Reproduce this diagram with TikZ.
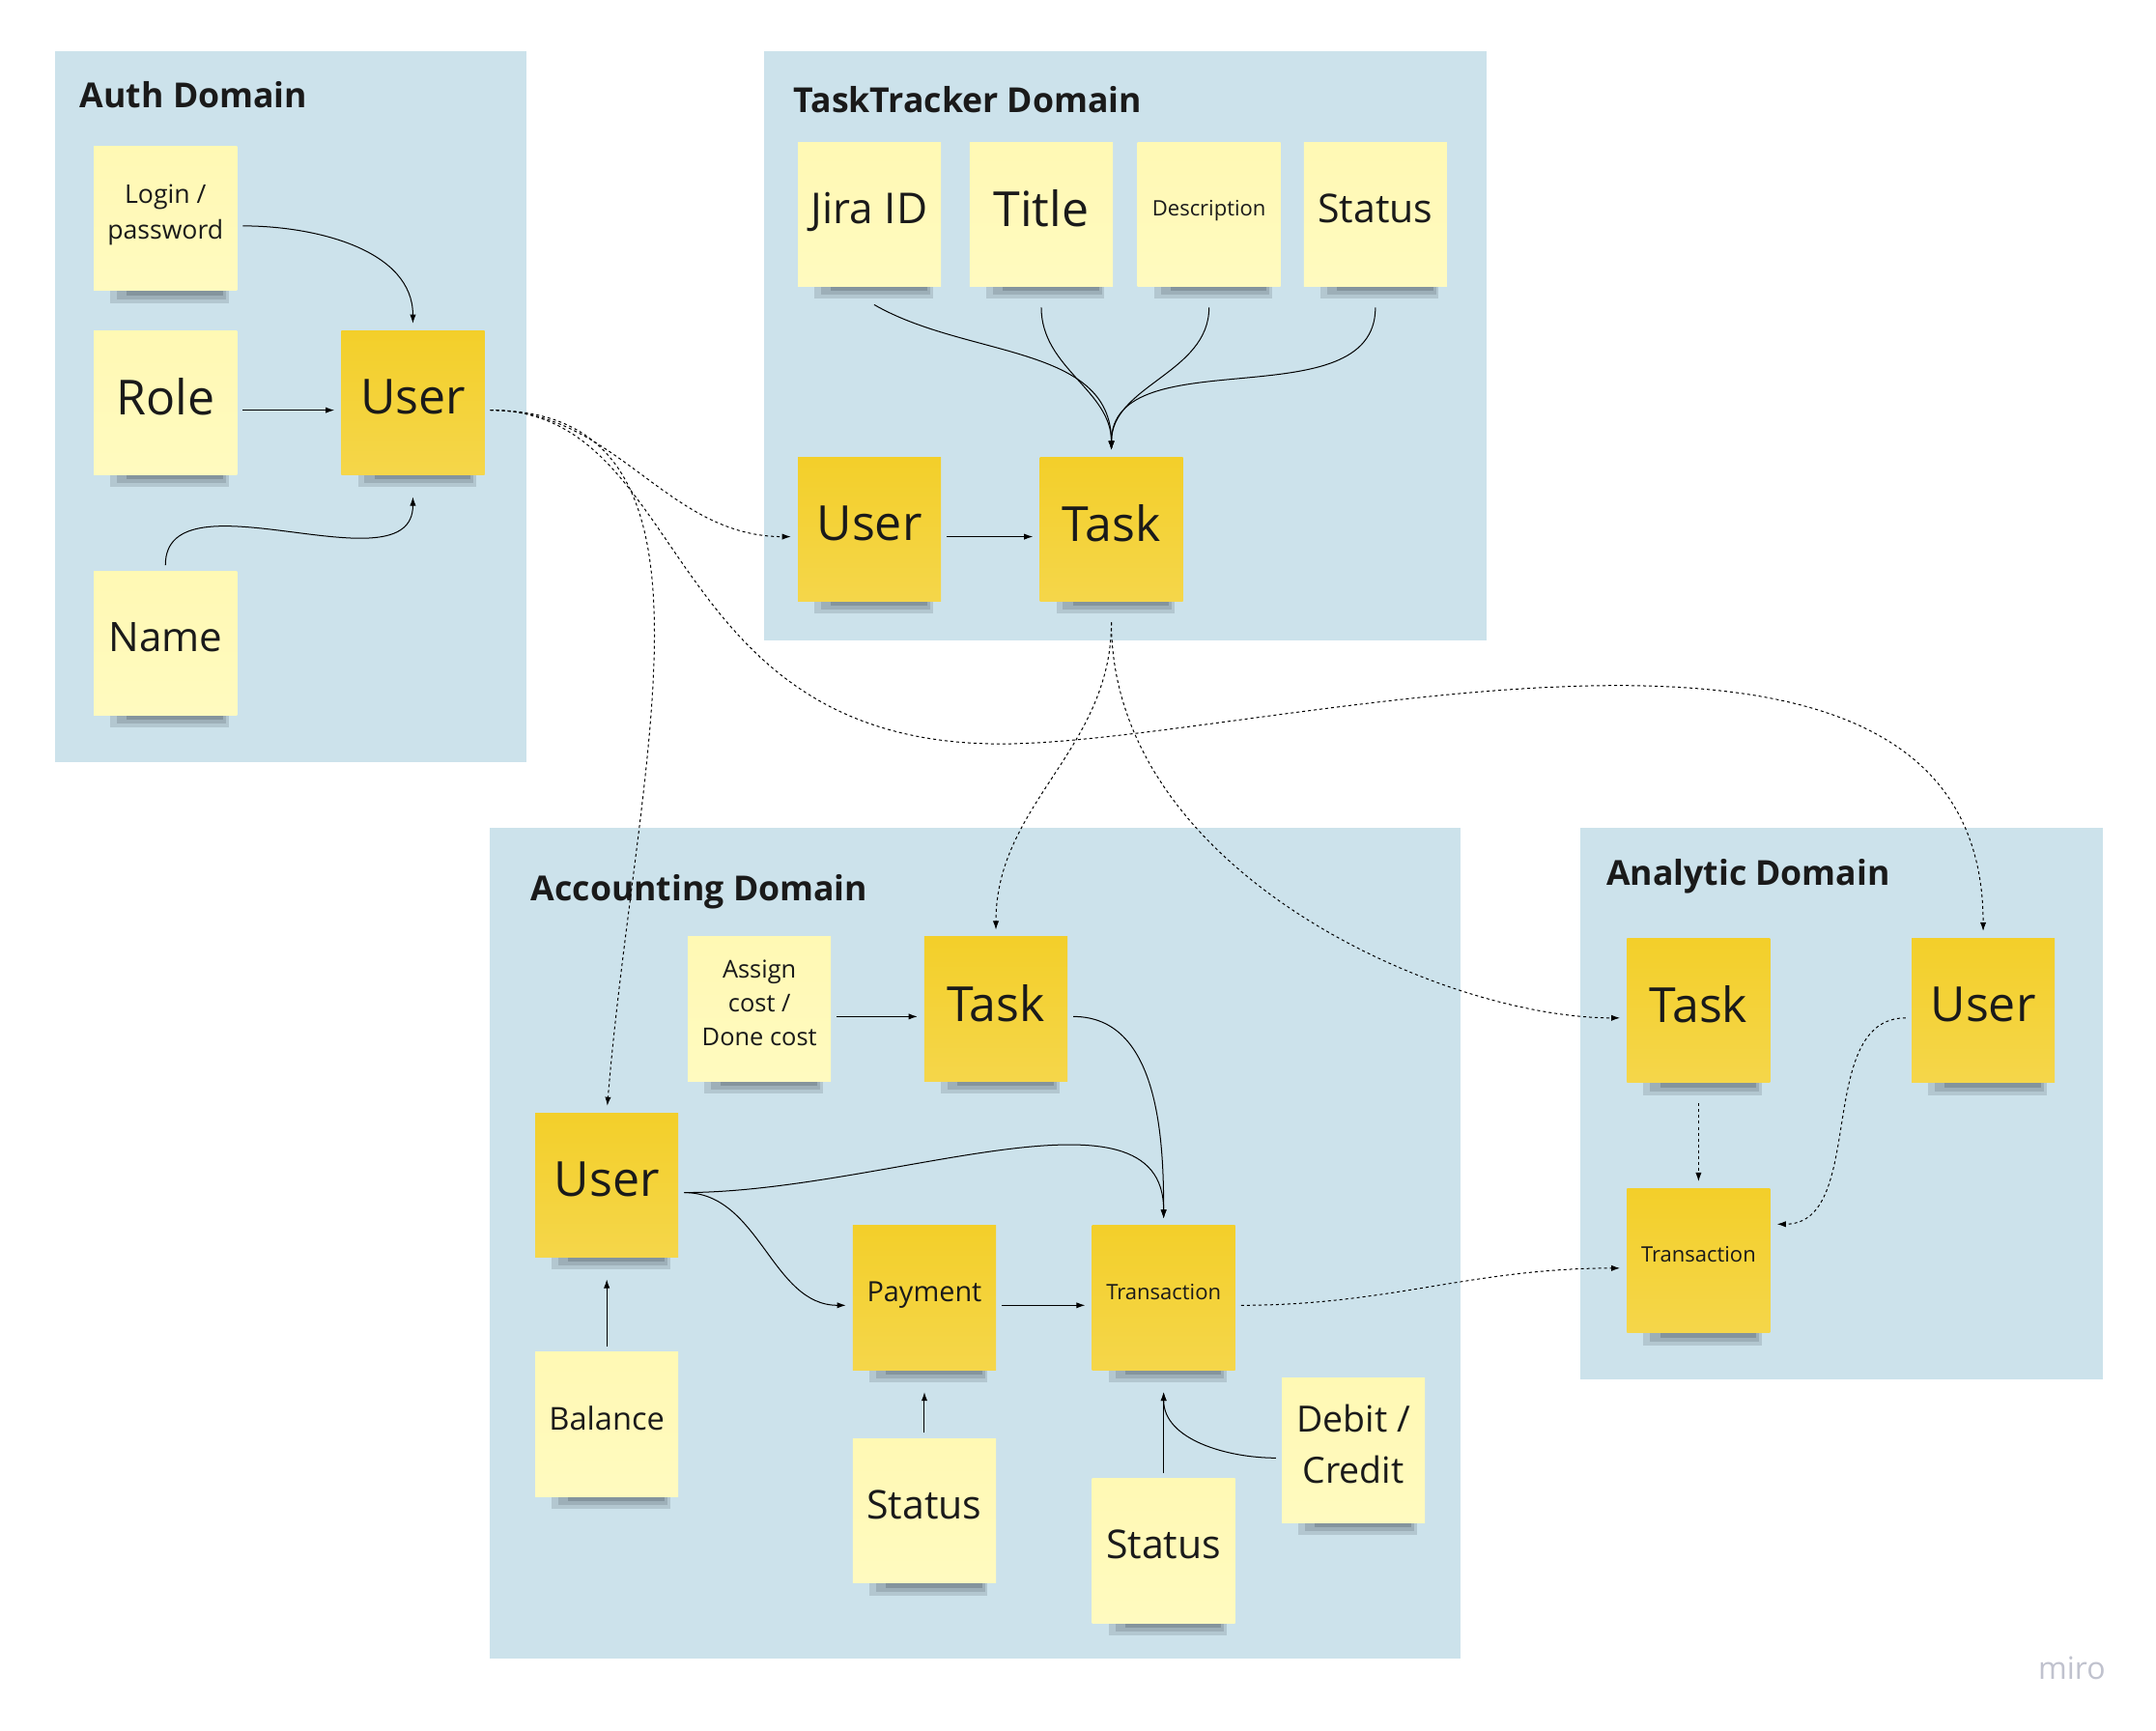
\documentclass[tikz,border=0pt]{standalone}
\usepackage{fontspec}
\setmainfont{Open Sans}
\usetikzlibrary{arrows.meta}

\definecolor{domainblue}{RGB}{204,226,235}
\definecolor{lightnote}{RGB}{255,249,180}
\definecolor{darknote}{RGB}{243,207,42}
\definecolor{notesh}{RGB}{66,76,84}
\definecolor{ink}{RGB}{26,26,26}
\definecolor{mirogray}{RGB}{192,194,206}
\newcommand\fs[2]{\fontsize{#1}{#2}\selectfont}

\begin{document}
\begin{tikzpicture}[x=0.025cm,y=0.025cm,
  >={Latex[length=1.6mm,width=1.1mm]},
  note/.style={anchor=north west,minimum width=2.6cm,minimum height=2.9cm,
    inner sep=0pt,align=center,text=ink,text depth=0.5cm,
    path picture={
      \fill[notesh!18!domainblue]
        ([xshift=0.3cm,yshift=0.275cm]path picture bounding box.south west)
        rectangle ([xshift=-0.15cm,yshift=0.05cm]path picture bounding box.south east);
      \fill[notesh!34!domainblue]
        ([xshift=0.42cm,yshift=0.275cm]path picture bounding box.south west)
        rectangle ([xshift=-0.2cm,yshift=0.12cm]path picture bounding box.south east);
      \fill[notesh!52!domainblue]
        ([xshift=0.6cm,yshift=0.275cm]path picture bounding box.south west)
        rectangle ([xshift=-0.25cm,yshift=0.19cm]path picture bounding box.south east);
      \shade[top color=#1,bottom color=#1!85!white]
        (path picture bounding box.north west)
        rectangle ([yshift=0.275cm]path picture bounding box.south east);}},
  lnote/.style={note=lightnote},
  dnote/.style={note=darknote},
  conn/.style={->,line width=0.5pt,shorten <=0.1cm,shorten >=0.12cm},
  dconn/.style={conn,dash pattern=on 1.5pt off 1.5pt},
  dtitle/.style={anchor=base west,inner sep=0pt,font=\fs{17.8}{21}\bfseries,text=ink}]
  \fill[white] (0,0) rectangle (1568,-1258.2);
  \useasboundingbox (0,0) rectangle (1568,-1258.2);

  % domains
  \fill[domainblue] (40,-37) rectangle (383,-554);
  \fill[domainblue] (556,-37) rectangle (1081,-466);
  \fill[domainblue] (356,-602) rectangle (1062,-1206);
  \fill[domainblue] (1149,-602) rectangle (1529,-1003);
  \node[dtitle] (authtitle) at (58,-78) {Auth Domain};
  \node[dtitle] (tttitle) at (577,-82) {TaskTracker Domain};
  \node[dtitle] (acctitle) at (386,-655) {Accounting Domain};
  \node[dtitle] (antitle) at (1168,-644) {Analytic Domain};

  % Auth
  \node[lnote,font=\fs{13.3}{18.5}] (login) at (68,-106) {Login /\\password};
  \node[lnote,font=\fs{25}{30}] (role) at (68,-240) {Role};
  \node[dnote,font=\fs{25}{30}] (authuser) at (248,-240) {User};
  \node[lnote,font=\fs{21}{25}] (name) at (68,-415) {Name};
  \draw[conn] (login.east) to[out=0,in=90] (authuser.north);
  \draw[conn] (role) -- (authuser);
  \draw[conn] (name.north) to[out=90,in=-90] (authuser.south);

  % TaskTracker
  \node[lnote,font=\fs{22}{26}] (jira) at (580,-103) {Jira ID};
  \node[lnote,font=\fs{25}{30}] (title) at (705,-103) {Title};
  \node[lnote,font=\fs{11}{13}] (descr) at (827,-103) {Description};
  \node[lnote,font=\fs{20.5}{25}] (ttstatus) at (948,-103) {Status};
  \node[dnote,font=\fs{25}{30}] (ttuser) at (580,-332) {User};
  \node[dnote,font=\fs{25}{30}] (tttask) at (756,-332) {Task};
  \draw[conn] (jira.south) to[out=-30,in=90] (tttask.north);
  \draw[conn] (title.south) to[out=-90,in=90] (tttask.north);
  \draw[conn] (descr.south) to[out=-90,in=90] (tttask.north);
  \draw[conn] (ttstatus.south) to[out=-90,in=90] (tttask.north);
  \draw[conn] (ttuser) -- (tttask);

  % Accounting
  \node[lnote,font=\fs{12.7}{17.4}] (assign) at (500,-681) {Assign\\cost /\\Done cost};
  \node[dnote,font=\fs{25}{30}] (acctask) at (672,-681) {Task};
  \node[dnote,font=\fs{25}{30}] (accuser) at (389,-809) {User};
  \node[dnote,font=\fs{14.4}{17}] (payment) at (620,-891) {Payment};
  \node[dnote,font=\fs{11}{13}] (trans) at (794,-891) {Transaction};
  \node[lnote,font=\fs{16.3}{20}] (balance) at (389,-983) {Balance};
  \node[lnote,font=\fs{20.5}{25}] (paystatus) at (620,-1046) {Status};
  \node[lnote,font=\fs{20.5}{25}] (trstatus) at (794,-1075) {Status};
  \node[lnote,font=\fs{18.7}{26.3}] (debit) at (932,-1002) {Debit /\\Credit};
  \draw[conn] (assign) -- (acctask);
  \draw[conn] (acctask.east) to[out=0,in=90] (trans.north);
  \draw[conn] (accuser.east) .. controls +(150,0) and +(0,110) .. (trans.north);
  \draw[conn] (accuser.east) to[out=0,in=180] (payment.west);
  \draw[conn] (payment) -- (trans);
  \draw[conn] (balance) -- (accuser);
  \draw[conn] (paystatus) -- (payment);
  \draw[conn] (trstatus) -- (trans);
  \draw[conn] (debit.west) to[out=180,in=-90] (trans.south);

  % Analytic
  \node[dnote,font=\fs{25}{30}] (antask) at (1183,-682) {Task};
  \node[dnote,font=\fs{25}{30}] (anuser) at (1390,-682) {User};
  \node[dnote,font=\fs{11}{13}] (antrans) at (1183,-864) {Transaction};
  \draw[dconn] (antask) -- (antrans);
  \draw[dconn] (anuser.west) to[out=180,in=0] ([yshift=0.8cm]antrans.east);

  % between domains
  \coordinate (bend) at (728,-541);
  \draw[dconn] (authuser.east) to[out=0,in=180] (ttuser.west);
  \draw[dconn] (authuser.east) .. controls +(188,0) and +(21,257) .. (accuser.north);
  \draw[dconn] (authuser.east) .. controls +(150,0) and +(-250,0) .. (bend)
    .. controls +(190,0) and +(0,297) .. (anuser.north);
  \draw[dconn] (tttask.south) to[out=-90,in=90] (acctask.north);
  \draw[dconn] (tttask.south) .. controls +(0,-186) and +(-133,0) .. (antask.west);
  \draw[dconn] (trans.east) to[out=0,in=180] (antrans.west);

  \node[anchor=base west,inner sep=0pt,text=mirogray,font=\fs{16}{18}] (miro) at (1482,-1221) {miro};
\end{tikzpicture}
\end{document}
